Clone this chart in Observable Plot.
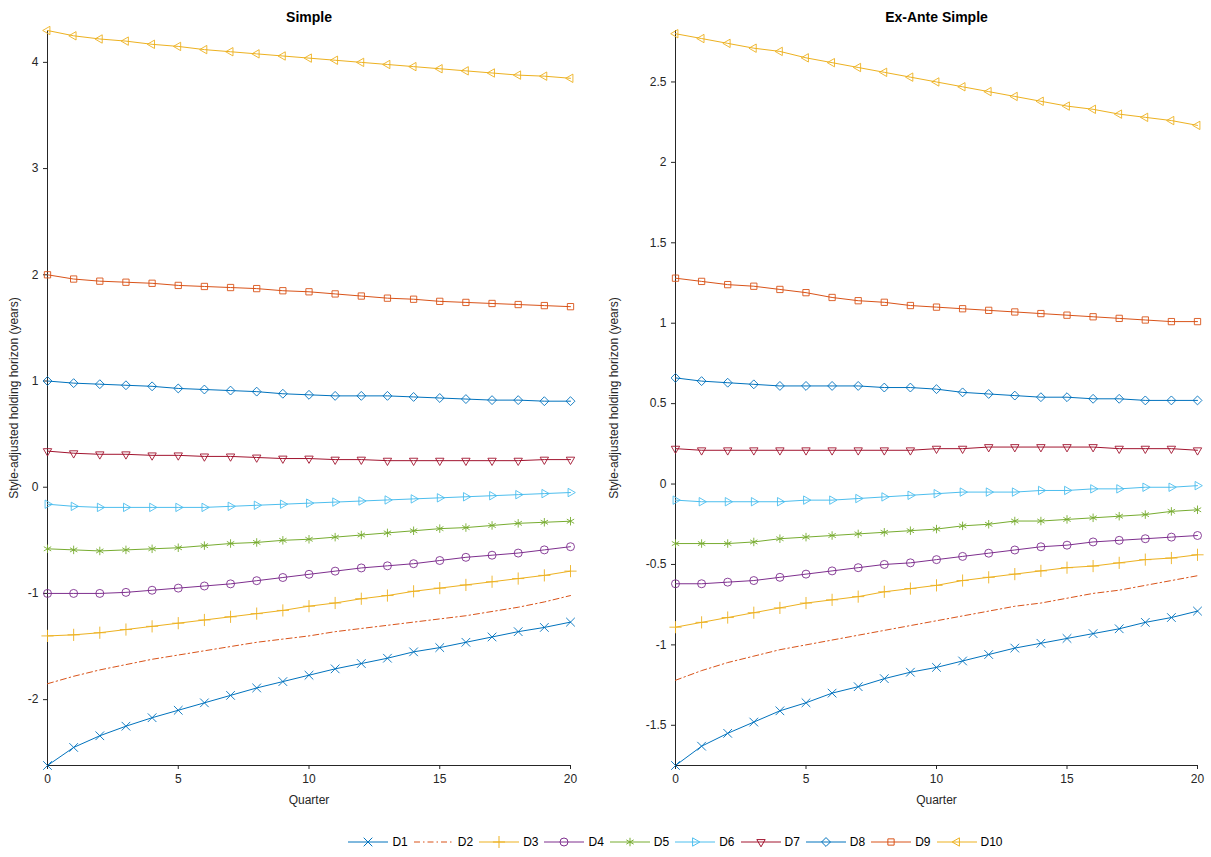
<!DOCTYPE html>
<html>
<head>
<meta charset="utf-8">
<script src="https://cdn.jsdelivr.net/npm/d3@7"></script>
<script src="https://cdn.jsdelivr.net/npm/@observablehq/plot@0.6"></script>
<style>
  body { margin: 0; background: #fff; font-family: "Liberation Sans", Arial, sans-serif; }
  #charts { display: flex; }
  #legend { display: flex; justify-content: center; gap: 6px; font-size: 12px; margin-top: 20px; padding-left: 140px; }
  .item { display: flex; align-items: center; gap: 4px; }
</style>
</head>
<body>
<div id="charts"></div>
<div id="legend"></div>
<script>
const quarters = d3.range(0, 21);
const names = ["D1","D2","D3","D4","D5","D6","D7","D8","D9","D10"];
const colors = ["#0072BD","#D95319","#EDB120","#7E2F8E","#77AC30","#4DBEEE","#A2142F","#0072BD","#D95319","#EDB120"];
const symbols = ["times", null, "plus", "circle", "asterisk", "triangle2", "triangle2", "diamond2", "square2", "triangle2"];
const rotations = [0, 0, 0, 0, 0, 90, 180, 0, 0, 270];

const simple = [
  [-2.62,-2.45,-2.34,-2.25,-2.17,-2.10,-2.03,-1.96,-1.89,-1.83,-1.77,-1.71,-1.66,-1.61,-1.55,-1.51,-1.46,-1.41,-1.36,-1.32,-1.27],
  [-1.85,-1.78,-1.72,-1.67,-1.62,-1.58,-1.54,-1.50,-1.46,-1.43,-1.40,-1.36,-1.33,-1.30,-1.27,-1.24,-1.21,-1.17,-1.13,-1.08,-1.02],
  [-1.40,-1.39,-1.37,-1.34,-1.31,-1.28,-1.25,-1.22,-1.19,-1.16,-1.12,-1.09,-1.05,-1.02,-0.98,-0.95,-0.92,-0.89,-0.86,-0.83,-0.79],
  [-1.00,-1.00,-1.00,-0.99,-0.97,-0.95,-0.93,-0.91,-0.88,-0.85,-0.82,-0.79,-0.76,-0.74,-0.72,-0.69,-0.66,-0.64,-0.62,-0.59,-0.56],
  [-0.58,-0.59,-0.60,-0.59,-0.58,-0.57,-0.55,-0.53,-0.52,-0.50,-0.49,-0.47,-0.45,-0.43,-0.41,-0.39,-0.38,-0.36,-0.34,-0.33,-0.32],
  [-0.16,-0.18,-0.19,-0.19,-0.19,-0.19,-0.19,-0.18,-0.17,-0.16,-0.15,-0.14,-0.13,-0.12,-0.11,-0.10,-0.09,-0.08,-0.07,-0.06,-0.05],
  [0.34,0.32,0.31,0.31,0.30,0.30,0.29,0.29,0.28,0.27,0.27,0.26,0.26,0.25,0.25,0.25,0.25,0.25,0.25,0.26,0.26],
  [1.00,0.98,0.97,0.96,0.95,0.93,0.92,0.91,0.90,0.88,0.87,0.86,0.86,0.86,0.85,0.84,0.83,0.82,0.82,0.81,0.81],
  [2.00,1.96,1.94,1.93,1.92,1.90,1.89,1.88,1.87,1.85,1.84,1.82,1.80,1.78,1.77,1.75,1.74,1.73,1.72,1.71,1.70],
  [4.30,4.25,4.22,4.20,4.17,4.15,4.12,4.10,4.08,4.06,4.04,4.02,4.00,3.98,3.96,3.94,3.92,3.90,3.88,3.87,3.85]
];
const exAnte = [
  [-1.75,-1.63,-1.55,-1.48,-1.41,-1.36,-1.30,-1.26,-1.21,-1.17,-1.14,-1.10,-1.06,-1.02,-0.99,-0.96,-0.93,-0.90,-0.86,-0.83,-0.79],
  [-1.22,-1.16,-1.11,-1.07,-1.03,-1.00,-0.97,-0.94,-0.91,-0.88,-0.85,-0.82,-0.79,-0.76,-0.74,-0.71,-0.68,-0.66,-0.63,-0.60,-0.57],
  [-0.89,-0.86,-0.83,-0.80,-0.77,-0.74,-0.72,-0.70,-0.67,-0.65,-0.63,-0.60,-0.58,-0.56,-0.54,-0.52,-0.51,-0.49,-0.47,-0.46,-0.44],
  [-0.62,-0.62,-0.61,-0.60,-0.58,-0.56,-0.54,-0.52,-0.50,-0.49,-0.47,-0.45,-0.43,-0.41,-0.39,-0.38,-0.36,-0.35,-0.34,-0.33,-0.32],
  [-0.37,-0.37,-0.37,-0.36,-0.34,-0.33,-0.32,-0.31,-0.30,-0.29,-0.28,-0.26,-0.25,-0.23,-0.23,-0.22,-0.21,-0.20,-0.19,-0.17,-0.16],
  [-0.10,-0.11,-0.11,-0.11,-0.11,-0.10,-0.10,-0.09,-0.08,-0.07,-0.06,-0.05,-0.05,-0.05,-0.04,-0.04,-0.03,-0.03,-0.02,-0.02,-0.01],
  [0.22,0.21,0.21,0.21,0.21,0.21,0.21,0.21,0.21,0.21,0.22,0.22,0.23,0.23,0.23,0.23,0.23,0.22,0.22,0.22,0.21],
  [0.66,0.64,0.63,0.62,0.61,0.61,0.61,0.61,0.60,0.60,0.59,0.57,0.56,0.55,0.54,0.54,0.53,0.53,0.52,0.52,0.52],
  [1.28,1.26,1.24,1.23,1.21,1.19,1.16,1.14,1.13,1.11,1.10,1.09,1.08,1.07,1.06,1.05,1.04,1.03,1.02,1.01,1.01],
  [2.80,2.77,2.74,2.71,2.69,2.65,2.62,2.59,2.56,2.53,2.50,2.47,2.44,2.41,2.38,2.35,2.33,2.30,2.28,2.26,2.23]
];

function panel(series, title, domain, ticks, opts) {
  const marks = [];
  series.forEach((vals, i) => {
    const rows = quarters.map((q, j) => ({q, v: vals[j]}));
    marks.push(Plot.line(rows, {x: "q", y: "v", stroke: colors[i], strokeWidth: 1,
      strokeDasharray: i === 1 ? "6,3,1.5,3" : null}));
    if (symbols[i]) marks.push(Plot.dot(rows, {x: "q", y: "v", stroke: colors[i], fill: "none",
      symbol: symbols[i], rotate: rotations[i], r: 4, strokeWidth: 0.9}));
  });
  return Plot.plot({
    width: opts.width, height: 815,
    marginTop: 30, marginBottom: 50, marginLeft: opts.ml, marginRight: opts.mr,
    style: {fontFamily: "Liberation Sans, Arial, sans-serif", fontSize: "11px", color: "#262626"},
    x: {domain: [0, 20], ticks: [0, 5, 10, 15, 20]},
    y: {domain, ticks, tickFormat: d => String(d)},
    marks: [
      Plot.axisX({ticks: [0,5,10,15,20], tickSize: 4, label: "Quarter", labelAnchor: "center", labelArrow: "none", labelOffset: 38, fontSize: 12}),
      Plot.axisY({ticks, tickFormat: d => String(d), tickSize: 4, label: "Style-adjusted holding horizon (years)", labelAnchor: "center", labelArrow: "none", labelOffset: opts.lo, fontSize: 12}),
      Plot.ruleX([0], {stroke: "#262626"}),
      Plot.ruleY([domain[0]], {stroke: "#262626"}),
      Plot.text([title], {frameAnchor: "top", dy: -18, fontWeight: "bold", fontSize: 14, fill: "#000"}),
      ...marks
    ]
  });
}

const charts = d3.select("#charts");
charts.append(() => panel(simple, "Simple", [-2.62, 4.3], [-2,-1,0,1,2,3,4], {width: 600, ml: 47, mr: 30, lo: 38}));
charts.append(() => panel(exAnte, "Ex-Ante Simple", [-1.75, 2.82], [-1.5,-1,-0.5,0,0.5,1,1.5,2,2.5], {width: 611, ml: 75, mr: 14, lo: 66}));

// legend
const legend = d3.select("#legend");
names.forEach((n, i) => {
  const it = legend.append("div").attr("class", "item");
  const svg = it.append("svg").attr("width", 40).attr("height", 12);
  svg.append("line").attr("x1", 0).attr("x2", 40).attr("y1", 6).attr("y2", 6)
    .attr("stroke", colors[i]).attr("stroke-dasharray", i === 1 ? "6,3,1.5,3" : null);
  if (symbols[i]) {
    const sym = {times: d3.symbolTimes, plus: d3.symbolPlus, circle: d3.symbolCircle, asterisk: d3.symbolAsterisk,
      triangle2: d3.symbolTriangle2, diamond2: d3.symbolDiamond2, square2: d3.symbolSquare2}[symbols[i]];
    svg.append("path").attr("d", d3.symbol(sym, 50)())
      .attr("transform", `translate(20,6) rotate(${rotations[i]})`)
      .attr("fill", "none").attr("stroke", colors[i]);
  }
  it.append("span").text(n);
});
</script>
</body>
</html>
